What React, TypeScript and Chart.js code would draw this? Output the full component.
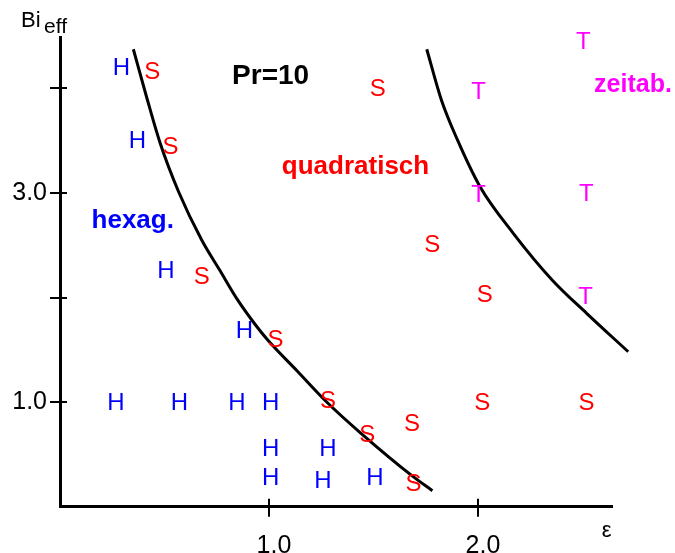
import React, { useEffect, useRef } from 'react';
import { Chart, registerables } from 'chart.js';

Chart.register(...registerables);

const FONT = '"Liberation Sans", Arial, Helvetica, sans-serif';

// Stability boundaries (epsilon, Bi_eff)
const leftBoundaryEps = [0.351, 0.413, 0.479, 0.568, 0.678, 0.764, 0.85, 0.925, 0.994, 1.135, 1.276, 1.439, 1.69, 1.782];
const leftBoundaryBi = [4.373, 3.926, 3.477, 3.009, 2.55, 2.263, 1.977, 1.766, 1.594, 1.298, 1.002, 0.705, 0.288, 0.154];
const rightBoundaryEps = [1.755, 1.825, 1.902, 2.01, 2.169, 2.356, 2.52, 2.719];
const rightBoundaryBi = [4.373, 3.888, 3.506, 3.059, 2.614, 2.166, 1.849, 1.482];

// Simulation results: H = hexagonal, S = square, T = time-dependent
const hexEps = [0.294, 0.37, 0.507, 0.882, 0.268, 0.571, 0.847, 1.008, 1.008, 1.282, 1.008, 1.258, 1.507];
const hexBi = [4.21, 3.513, 2.271, 1.691, 1.01, 1.01, 1.01, 1.01, 0.566, 0.566, 0.294, 0.261, 0.289];
const sqEps = [0.441, 0.529, 0.678, 1.031, 1.282, 1.47, 1.685, 1.692, 2.02, 2.52, 1.52, 1.781, 2.032];
const sqBi = [4.167, 3.456, 2.214, 1.612, 1.03, 0.705, 0.81, 0.237, 1.006, 1.006, 4.01, 2.515, 2.042];
const timeEps = [2.504, 2.003, 2.003, 2.519, 2.515];
const timeBi = [4.461, 3.981, 2.997, 3.007, 2.018];

// Axis ticks
const xTickValues = [1, 2];
const xTickLabels = ['1.0', '2.0'];
const yTickValues = [1, 2, 3, 4];
const yTickLabels = ['1.0', '', '3.0', ''];

// Region labels (text, epsilon, Bi_eff)
const regionTexts = ['Pr=10', 'hexag.', 'quadratisch', 'zeitab.'];
const regionEps = [1.008, 0.348, 1.414, 2.742];
const regionBi = [4.045, 2.66, 3.183, 3.967];
const regionColors = ['#000000', '#0000ff', '#ff0000', '#ff00ff'];
const regionSizes = [28, 26, 26, 25];

const toPts = (xs: number[], ys: number[]) => xs.map((x, i) => ({ x, y: ys[i] }));

const overlayPlugin = {
  id: 'overlay',
  afterDatasetsDraw(chart: any) {
    const ctx = chart.ctx as CanvasRenderingContext2D;
    const { left, right, top, bottom } = chart.chartArea;
    const xs = chart.scales.x;
    const ys = chart.scales.y;
    ctx.save();
    // inner parts of tick marks
    ctx.strokeStyle = '#000';
    ctx.lineWidth = 2;
    ctx.beginPath();
    xTickValues.forEach((v) => {
      const px = Math.round(xs.getPixelForValue(v));
      ctx.moveTo(px, bottom);
      ctx.lineTo(px, bottom - 8);
    });
    yTickValues.forEach((v) => {
      const py = Math.round(ys.getPixelForValue(v));
      ctx.moveTo(left, py);
      ctx.lineTo(left + 7, py);
    });
    ctx.stroke();

    // letters for each simulation point
    chart.data.datasets.forEach((ds: any, i: number) => {
      if (!ds.letter) return;
      const meta = chart.getDatasetMeta(i);
      const size = 24;
      ctx.font = `${size}px ${FONT}`;
      ctx.fillStyle = ds.letterColor;
      ctx.textAlign = 'center';
      ctx.textBaseline = 'alphabetic';
      meta.data.forEach((el: any) => {
        ctx.fillText(ds.letter, el.x, el.y + size * 0.358);
      });
    });

    // region labels
    regionTexts.forEach((t, i) => {
      ctx.font = `bold ${regionSizes[i]}px ${FONT}`;
      ctx.fillStyle = regionColors[i];
      ctx.textAlign = 'center';
      ctx.textBaseline = 'alphabetic';
      ctx.fillText(t, xs.getPixelForValue(regionEps[i]), ys.getPixelForValue(regionBi[i]));
    });

    // axis titles
    ctx.fillStyle = '#000';
    ctx.textAlign = 'left';
    ctx.textBaseline = 'alphabetic';
    ctx.font = `22px ${FONT}`;
    ctx.fillText('Bi', left - 39, top - 10.5);
    ctx.font = `21px ${FONT}`;
    ctx.fillText('eff', left - 16, top - 3.7);
    ctx.font = `22px ${FONT}`;
    ctx.fillText('ε', right - 10, bottom + 29.7);
    ctx.restore();
  },
};

export default function App() {
  const ref = useRef<HTMLCanvasElement>(null);
  useEffect(() => {
    const canvas = ref.current;
    if (!canvas) return;
    const chart = new Chart(canvas, {
      type: 'scatter',
      data: {
        datasets: [
          {
            label: 'Grenze hexag./quadratisch',
            data: toPts(leftBoundaryEps, leftBoundaryBi),
            showLine: true,
            borderColor: '#000',
            borderWidth: 3,
            pointRadius: 0,
            cubicInterpolationMode: 'monotone',
            clip: false,
            fill: false,
          },
          {
            label: 'Grenze quadratisch/zeitab.',
            data: toPts(rightBoundaryEps, rightBoundaryBi),
            showLine: true,
            borderColor: '#000',
            borderWidth: 3,
            pointRadius: 0,
            cubicInterpolationMode: 'monotone',
            clip: false,
            fill: false,
          },
          { label: 'H', letter: 'H', letterColor: '#0000ff', data: toPts(hexEps, hexBi), pointRadius: 0 } as any,
          { label: 'S', letter: 'S', letterColor: '#ff0000', data: toPts(sqEps, sqBi), pointRadius: 0 } as any,
          { label: 'T', letter: 'T', letterColor: '#ff00ff', data: toPts(timeEps, timeBi), pointRadius: 0 } as any,
        ],
      },
      options: {
        animation: false,
        responsive: false,
        devicePixelRatio: 1,
        events: [],
        layout: { padding: { left: 0, right: 63.3, top: 37, bottom: 0 } },
        plugins: {
          legend: { display: false },
          tooltip: { enabled: false },
          title: { display: false },
        },
        scales: {
          x: {
            type: 'linear',
            position: 'bottom',
            min: 0,
            max: 2.64,
            afterBuildTicks: (s: any) => {
              s.ticks = xTickValues.map((v) => ({ value: v }));
            },
            afterFit: (s: any) => {
              s.height = 46.2;
            },
            ticks: {
              callback: (_v: any, i: number) => xTickLabels[i] ?? '',
              font: { family: FONT, size: 25 },
              color: '#000',
              padding: 14,
              labelOffset: 5,
              maxRotation: 0,
              autoSkip: false,
            },
            grid: { drawOnChartArea: false, drawTicks: true, tickLength: 10, color: '#000', lineWidth: 2 },
            border: { display: true, color: '#000', width: 3 },
          },
          y: {
            type: 'linear',
            position: 'left',
            min: 0,
            max: 4.49,
            afterBuildTicks: (s: any) => {
              s.ticks = yTickValues.map((v) => ({ value: v }));
            },
            afterFit: (s: any) => {
              s.width = 60;
            },
            ticks: {
              callback: (_v: any, i: number) => yTickLabels[i] ?? '',
              font: { family: FONT, size: 25 },
              color: '#000',
              padding: 3,
              autoSkip: false,
            },
            grid: { drawOnChartArea: false, drawTicks: true, tickLength: 10, color: '#000', lineWidth: 2 },
            border: { display: true, color: '#000', width: 3 },
          },
        },
      } as any,
      plugins: [overlayPlugin],
    });
    return () => chart.destroy();
  }, []);

  return (
    <div style={{ position: 'fixed', left: 0, top: 0, width: 675, height: 553, background: '#fff' }}>
      <canvas ref={ref} width={675} height={553} style={{ display: 'block' }} />
    </div>
  );
}
